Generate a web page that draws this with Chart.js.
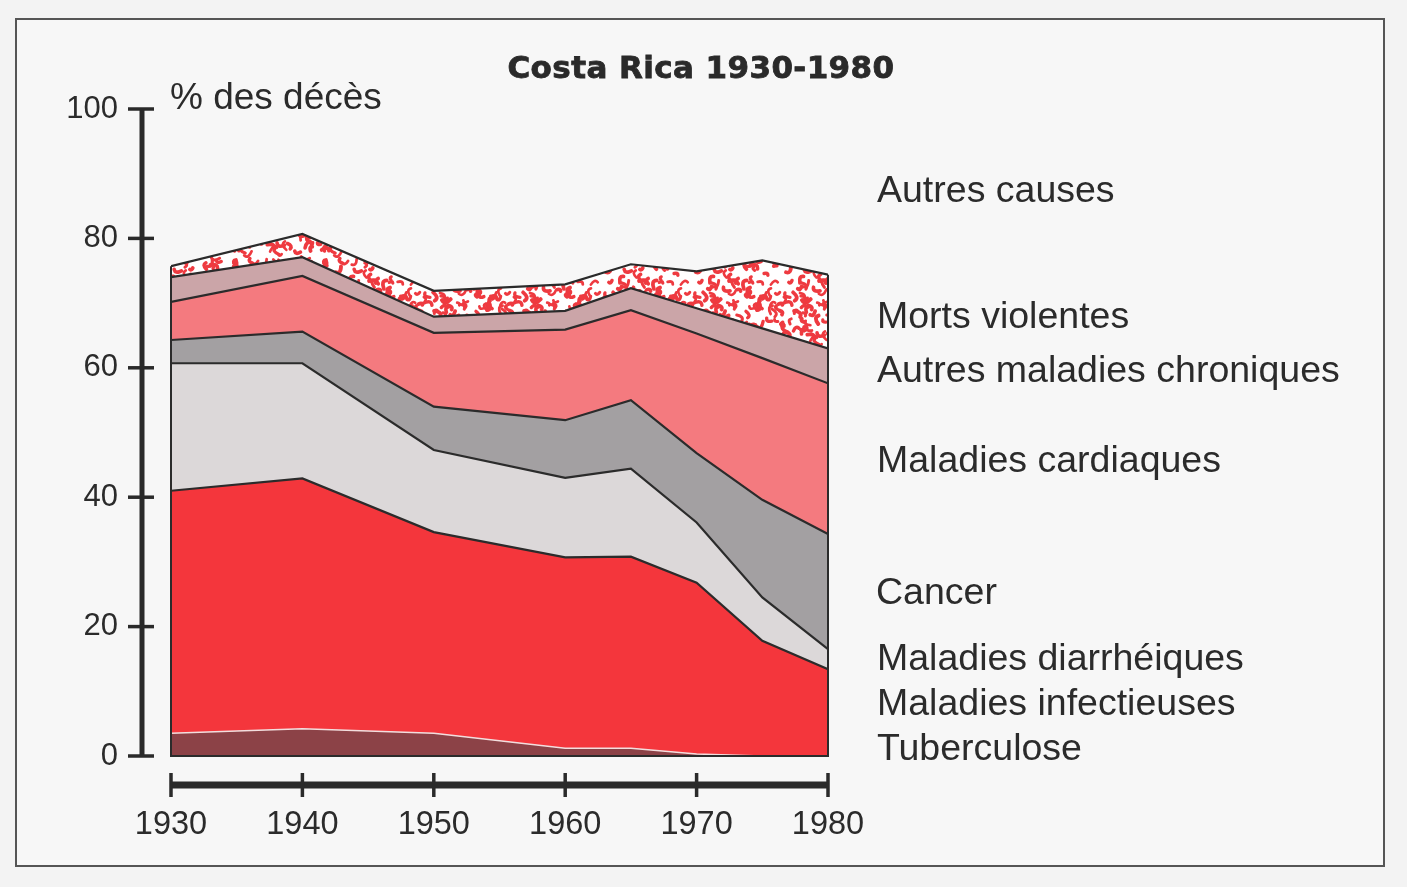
<!DOCTYPE html>
<html lang="fr">
<head>
<meta charset="utf-8">
<title>Costa Rica 1930-1980</title>
<script src="https://cdn.jsdelivr.net/npm/chart.js@4.4.1/dist/chart.umd.min.js"></script>
<style>
  html, body { margin: 0; padding: 0; background: #f3f3f3; width: 1407px; height: 887px; overflow: hidden; }
  #frame { position: absolute; left: 15px; top: 18px; width: 1370px; height: 849px; border: 2px solid #555; box-sizing: border-box; background: #f7f7f7; }
  #wrap { position: absolute; left: 0; top: 0; width: 1407px; height: 887px; }
  canvas { position: absolute; left: 0; top: 0; }
  .t { position: absolute; font-family: "Liberation Sans", Arial, sans-serif; color: #2b2b2b; line-height: 1; white-space: nowrap; }
  #title { font-family: "DejaVu Sans", sans-serif; font-weight: bold; font-size: 31px; left: 0; width: 1402px; text-align: center; top: 52px; color: #2a2a2a; letter-spacing: 0.4px; -webkit-text-stroke: 0.8px #2a2a2a; }
  #unit { left: 170px; top: 78px; font-size: 37px; }
  .lab { left: 877px; font-size: 37.5px; }
</style>
</head>
<body>
<div id="frame"></div>
<div id="wrap"><canvas id="c" width="1407" height="887"></canvas></div>
<div class="t" id="title">Costa Rica 1930-1980</div>
<div class="t" id="unit">% des décès</div>
<div class="t lab" style="top:171px">Autres causes</div>
<div class="t lab" style="top:297px">Morts violentes</div>
<div class="t lab" style="top:351px">Autres maladies chroniques</div>
<div class="t lab" style="top:441px">Maladies cardiaques</div>
<div class="t lab" style="top:573px;left:876px">Cancer</div>
<div class="t lab" style="top:639px">Maladies diarrhéiques</div>
<div class="t lab" style="top:684px">Maladies infectieuses</div>
<div class="t lab" style="top:729px">Tuberculose</div>
<script>
// ---- data (percent of deaths, stacked) ----
const years = [1930, 1940, 1950, 1960, 1965, 1970, 1975, 1980];
const tuberculose      = [3.5, 4.2, 3.5, 1.2, 1.2, 0.3, 0.0, 0.0];
const infectieuses     = [37.5, 38.7, 31.1, 29.5, 29.6, 26.5, 17.8, 13.4];
const diarrheiques     = [19.7, 17.8, 12.7, 12.3, 13.6, 9.3, 6.7, 3.1];
const cancer           = [3.6, 4.9, 6.7, 8.9, 10.6, 10.7, 15.1, 17.8];
const cardiaques       = [5.9, 8.6, 11.4, 14.0, 13.9, 18.5, 21.9, 23.3];
const autresChroniques = [3.8, 2.9, 2.5, 2.9, 3.4, 3.9, 4.6, 5.4];
const mortsViolentes   = [1.7, 3.6, 4.0, 4.1, 3.7, 5.7, 10.5, 11.4];
const autresCauses     = [24.3, 19.3, 28.1, 27.1, 24.0, 25.1, 23.4, 25.6];
const xTicks = [1930, 1940, 1950, 1960, 1970, 1980];
const yTicks = [0, 20, 40, 60, 80, 100];

// ---- speckle texture for "Morts violentes" (style only) ----
function speckle() {
  const W = 90;
  const c = document.createElement('canvas');
  c.width = W; c.height = W;
  const g = c.getContext('2d');
  g.fillStyle = '#ffffff'; g.fillRect(0, 0, W, W);
  let s = 12345;
  const rnd = () => { s = (s * 16807) % 2147483647; return (s - 1) / 2147483646; };
  g.strokeStyle = '#ee3a40'; g.lineCap = 'round'; g.lineJoin = 'round';
  for (let i = 0; i < 120; i++) {
    const x = rnd() * W, y = rnd() * W, a = rnd() * Math.PI * 2, l = 2 + rnd() * 4;
    g.lineWidth = 2.6 + rnd() * 1.4;
    for (const dx of [-W, 0, W]) for (const dy of [-W, 0, W]) {
      g.beginPath();
      g.moveTo(x + dx, y + dy);
      g.quadraticCurveTo(x + dx + Math.cos(a + 1.2) * l, y + dy + Math.sin(a + 1.2) * l,
                         x + dx + Math.cos(a) * l * 1.5, y + dy + Math.sin(a) * l * 1.5);
      g.stroke();
    }
  }
  return g.createPattern(c, 'repeat');
}

const ctx = document.getElementById('c').getContext('2d');
const pts = arr => years.map((yr, i) => ({ x: yr, y: arr[i] }));
const LINE = '#2b2b2b';

const series = [
  { label: 'Tuberculose', data: tuberculose, bg: '#8c4247', bc: '#f3dede', bw: 1.5 },
  { label: 'Maladies infectieuses', data: infectieuses, bg: '#f4363c', bc: LINE, bw: 2.2 },
  { label: 'Maladies diarrhéiques', data: diarrheiques, bg: '#dcd8d9', bc: LINE, bw: 2.2 },
  { label: 'Cancer', data: cancer, bg: '#a3a0a2', bc: LINE, bw: 2.2 },
  { label: 'Maladies cardiaques', data: cardiaques, bg: '#f47a7f', bc: LINE, bw: 2.2 },
  { label: 'Autres maladies chroniques', data: autresChroniques, bg: '#cba5a8', bc: LINE, bw: 2.2 },
  { label: 'Morts violentes', data: mortsViolentes, bg: speckle(), bc: LINE, bw: 2.2 },
  { label: 'Autres causes', data: autresCauses, bg: 'rgba(255,255,255,0)', bc: 'rgba(0,0,0,0)', bw: 0 }
];

const axesPlugin = {
  id: 'customAxes',
  afterDatasetsDraw(chart) {
    const { ctx, scales: { x, y } } = chart;
    const top = i => series.slice(0, 7).reduce((a, s) => a + s.data[i], 0);
    const n = years.length - 1;
    ctx.save();
    ctx.strokeStyle = LINE; ctx.lineWidth = 2;
    ctx.beginPath();
    ctx.moveTo(x.getPixelForValue(years[0]), y.getPixelForValue(top(0)));
    ctx.lineTo(x.getPixelForValue(years[0]), y.getPixelForValue(0));
    ctx.lineTo(x.getPixelForValue(years[n]), y.getPixelForValue(0));
    ctx.lineTo(x.getPixelForValue(years[n]), y.getPixelForValue(top(n)));
    ctx.stroke();
    ctx.restore();
  },
  afterDraw(chart) {
    const { ctx, chartArea, scales: { x, y } } = chart;
    ctx.save();
    ctx.strokeStyle = '#2a2a2a';
    const ax = chartArea.left - 29;
    ctx.lineWidth = 5;
    ctx.beginPath();
    ctx.moveTo(ax, y.getPixelForValue(100) - 1);
    ctx.lineTo(ax, y.getPixelForValue(0) + 1);
    ctx.stroke();
    ctx.lineWidth = 3.5;
    yTicks.forEach(v => {
      const py = y.getPixelForValue(v);
      ctx.beginPath(); ctx.moveTo(ax - 14, py); ctx.lineTo(ax + 12, py); ctx.stroke();
    });
    const ay = chartArea.bottom + 29;
    ctx.lineWidth = 7;
    ctx.beginPath();
    ctx.moveTo(x.getPixelForValue(years[0]) - 1, ay);
    ctx.lineTo(x.getPixelForValue(years[years.length - 1]) + 1, ay);
    ctx.stroke();
    ctx.lineWidth = 3.5;
    xTicks.forEach(v => {
      const px = x.getPixelForValue(v);
      ctx.beginPath(); ctx.moveTo(px, ay - 12); ctx.lineTo(px, ay + 12); ctx.stroke();
    });
    ctx.restore();
  }
};

new Chart(ctx, {
  type: 'line',
  data: {
    datasets: series.map((s, i) => ({
      label: s.label,
      data: pts(s.data),
      backgroundColor: s.bg,
      borderColor: s.bc,
      borderWidth: s.bw,
      fill: i === 0 ? 'origin' : '-1',
      pointRadius: 0,
      tension: 0
    }))
  },
  options: {
    responsive: false,
    animation: false,
    events: [],
    layout: { padding: { left: 0, right: 579, top: 109, bottom: 0 } },
    plugins: { legend: { display: false }, tooltip: { enabled: false }, title: { display: false } },
    scales: {
      x: {
        type: 'linear', min: 1930, max: 1980,
        grid: { display: false, drawTicks: false },
        border: { display: false },
        afterBuildTicks: s => { s.ticks = xTicks.map(v => ({ value: v })); },
        afterFit: s => { s.height = 131; },
        ticks: {
          padding: 50, maxRotation: 0, autoSkip: false,
          color: '#2b2b2b',
          font: { family: '"Liberation Sans", Arial, sans-serif', size: 32.5 },
          callback: v => String(v)
        }
      },
      y: {
        stacked: true, min: 0, max: 100,
        grid: { display: false, drawTicks: false },
        border: { display: false },
        afterBuildTicks: s => { s.ticks = yTicks.map(v => ({ value: v })); },
        afterFit: s => { s.width = 171; },
        ticks: {
          padding: 53,
          color: '#2b2b2b',
          font: { family: '"Liberation Sans", Arial, sans-serif', size: 31 },
          callback: v => String(v)
        }
      }
    }
  },
  plugins: [axesPlugin]
});
</script>
</body>
</html>
